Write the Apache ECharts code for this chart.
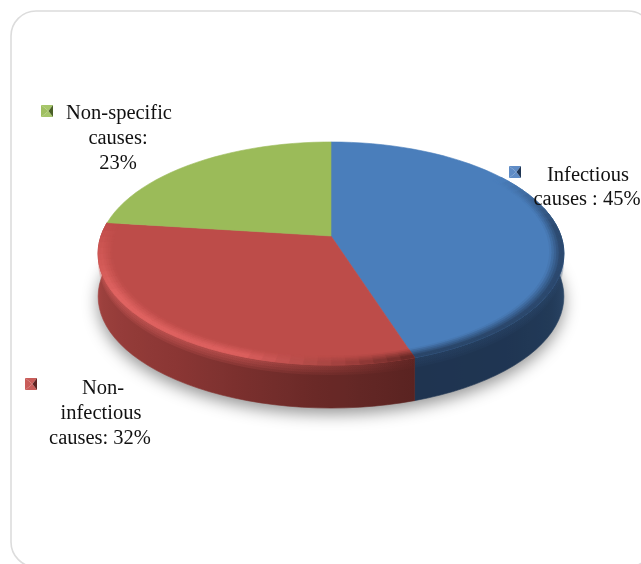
<!DOCTYPE html>
<html><head><meta charset="utf-8">
<style>html,body{margin:0;padding:0;background:#fff}#c{width:641px;height:564px}</style>
<script src="https://cdn.jsdelivr.net/npm/echarts@6/dist/echarts.min.js"></script>
</head><body><div id="c"></div>
<script>
// ---- data ----
const categories = ["Infectious causes", "Non-infectious causes", "Non-specific causes"];
const seriesValues = [45, 32, 23];
const labelLines = [["Infectious", "causes : 45%"], ["Non-", "infectious", "causes: 32%"], ["Non-specific", "causes:", "23%"]];
const topColors = ["#4a7ebb", "#bd4c49", "#9bbb59"];

// ---- layout & style ----
const labelCenters = [[[588, 176], [587, 200]], [[103, 389], [101, 414], [100, 439]], [[119, 114], [118, 139], [118, 164]]];
const keyBoxes = [[509, 166], [25, 378], [41, 105]];
const keyColors = [["#5f8cc6", "#5f8cc6", "#1f3554"], ["#c95d5a", "#c95d5a", "#5f2422"], ["#9fbf60", "#a6c66a", "#4a6026"]];
const pie = {cx: 331, cy: 236, a: 230, b: 108.8, k: 0.157, depth: 43};
const wallStops = [
  [[99, "#2c4869"], [118, "#223a58"], [140, "#1f3552"], [162, "#1f3450"]],
  [[162, "#5a2321"], [185, "#6c2a28"], [215, "#8a3634"], [250, "#9c403d"], [262, "#a84543"]],
  [[277, "#a84543"], [360, "#a84543"]]
];
const rimStops = [
  [[0, "#4a7ebb"], [55, "#4a7ebb"], [85, "#2c4a70"], [162, "#2a4568"]],
  [[162, "#642725"], [176, "#9c3f3c"], [200, "#dc605e"], [240, "#e06462"], [265, "#cc5552"], [278, "#bd4c49"]],
  [[277, "#9bbb59"], [360, "#9bbb59"]]
];
const wallRange = [75, 278];
const gradientRange = [99, 261];
const total = seriesValues.reduce((s, v) => s + v, 0);
function sliceRange(i) {
  let a = 0;
  for (let j = 0; j < i; j++) a += seriesValues[j];
  return [a / total * 360, (a + seriesValues[i]) / total * 360];
}
function project(deg, r) {
  const t = deg * Math.PI / 180, u = r * Math.sin(t), v = -r * Math.cos(t), d = 1 - pie.k * v;
  return [pie.cx + pie.a * u / d, pie.cy + pie.b * v / d];
}
function hex(c) { return [1, 3, 5].map(i => parseInt(c.substr(i, 2), 16)); }
function mix(c1, c2, t) {
  const a = hex(c1), b = hex(c2);
  return "rgb(" + a.map((x, i) => Math.round(x + (b[i] - x) * t)).join(",") + ")";
}
function toHex(rgb) {
  const m = rgb.match(/\d+/g).map(Number);
  return "#" + m.map(x => x.toString(16).padStart(2, "0")).join("");
}
function stopColor(stops, deg) {
  if (deg <= stops[0][0]) return stops[0][1];
  for (let i = 1; i < stops.length; i++) {
    if (deg <= stops[i][0]) {
      const t = (deg - stops[i - 1][0]) / (stops[i][0] - stops[i - 1][0]);
      return toHex(mix(stops[i - 1][1], stops[i][1], t));
    }
  }
  return stops[stops.length - 1][1];
}
function poly(points, fill, extra) {
  return {type: "polygon", shape: {points}, silent: true,
    style: Object.assign({fill, stroke: fill, lineWidth: 0.6}, extra || {})};
}
const STEP = 3;
function angles(a, b) {
  const out = [];
  for (let d = a; d < b; d += STEP) out.push(d);
  out.push(b);
  return out;
}
function renderShadow(params) {
  if (params.dataIndex !== 0) return {type: "group", children: []};
  const pts = angles(0, 360).map(d => {
    const p = project(d, 1);
    return [p[0], p[1] + pie.depth];
  });
  return {type: "group", silent: true, children: [poly(pts, "#c4c4c4", {
    shadowBlur: 16, shadowColor: "rgba(0,0,0,0.42)", shadowOffsetX: 0, shadowOffsetY: 6, lineWidth: 0})]};
}
// horizontal gradient that follows the x position of the slice's arc
function arcGradient(a, b, stops) {
  const from = Math.max(a, gradientRange[0]), to = Math.min(b, gradientRange[1]);
  const as = angles(from, to), xs = as.map(d => project(d, 1)[0]);
  const x0 = Math.min.apply(null, xs), x1 = Math.max.apply(null, xs);
  const colorStops = as.map((d, n) => ({offset: (xs[n] - x0) / (x1 - x0), color: stopColor(stops, d)}))
    .sort((p, q) => p.offset - q.offset);
  return {type: "linear", x: x0, y: 0, x2: x1, y2: 0, global: true, colorStops};
}
function renderWall(params) {
  const i = params.dataIndex, s = sliceRange(i);
  const a = Math.max(s[0], wallRange[0]), b = Math.min(s[1], wallRange[1]);
  const children = [];
  if (a < b && Math.max(a, gradientRange[0]) < Math.min(b, gradientRange[1])) {
    const top = angles(a, b).map(d => project(d, 1));
    const strip = h => top.concat(top.map(p => [p[0], p[1] + h]).reverse());
    const fill = arcGradient(a, b, wallStops[i]);
    children.push({type: "polygon", shape: {points: strip(pie.depth)}, silent: true,
      style: {fill, stroke: fill, lineWidth: 0.6}});
    const soft = arcGradient(a, b, rimStops[i]);
    for (let k = 1; k <= 4; k++) {
      children.push({type: "polygon", shape: {points: strip(k * 2.5)}, silent: true,
        style: {fill: soft, opacity: 0.16}});
    }
  }
  return {type: "group", silent: true, children};
}
function renderTop(params) {
  const i = params.dataIndex, s = sliceRange(i), as = angles(s[0], s[1]);
  const base = topColors[i];
  const children = [poly([[pie.cx, pie.cy]].concat(as.map(d => project(d, 1))), base)];
  const bands = 6, inner = 0.94;
  for (let n = 0; n < as.length - 1; n++) {
    const mid = (as[n] + as[n + 1]) / 2;
    const target = stopColor(rimStops[i], mid);
    if (target === base) continue;
    for (let k = 0; k < bands; k++) {
      const r0 = inner + (1 - inner) * k / bands, r1 = inner + (1 - inner) * (k + 1) / bands;
      const t = Math.min(1, (k + 0.5) / bands * 1.3);
      const fill = mix(base, target, t);
      children.push({type: "polygon", silent: true,
        shape: {points: [project(as[n], r0), project(as[n + 1], r0), project(as[n + 1], r1), project(as[n], r1)]},
        style: {fill, stroke: fill, lineWidth: 0.8}});
    }
  }
  return {type: "group", silent: true, children};
}
function renderLabel(params) {
  const i = params.dataIndex, [x, y] = keyBoxes[i], w = 12, c = keyColors[i];
  const mx = x + w / 2 + 1.5, my = y + w / 2;
  const tl = [x, y], tr = [x + w, y], br = [x + w, y + w], bl = [x, y + w], m = [mx, my];
  const children = [
    poly([tl, tr, m], c[1], {lineWidth: 0}),
    poly([bl, br, m], c[1], {lineWidth: 0}),
    poly([tl, bl, m], c[0], {lineWidth: 0}),
    poly([tr, br, m], c[2], {lineWidth: 0})
  ];
  labelLines[i].forEach((line, n) => {
    const p = labelCenters[i][n];
    children.push({type: "text", silent: true, x: p[0], y: p[1],
      style: {text: line, fill: "#111111", font: "20.5px 'Liberation Serif', serif", align: "center", verticalAlign: "middle"}});
  });
  return {type: "group", silent: true, children};
}
const seriesData = categories.map((name, i) => ({name, value: seriesValues[i]}));
const chart = echarts.init(document.getElementById("c"), null, {renderer: "canvas", width: 641, height: 564});
chart.setOption({
  animation: false,
  backgroundColor: "#ffffff",
  graphic: [{type: "rect", silent: true, z: 0,
    shape: {x: 11, y: 11, width: 642, height: 556, r: 25},
    style: {fill: "#ffffff", stroke: "#dcdcdc", lineWidth: 1.6}}],
  series: [renderShadow, renderWall, renderTop, renderLabel].map((renderItem, n) => ({
    type: "custom", coordinateSystem: "none", data: seriesData, renderItem,
    silent: true, z: 2 + n, clip: false
  }))
});
</script></body></html>
